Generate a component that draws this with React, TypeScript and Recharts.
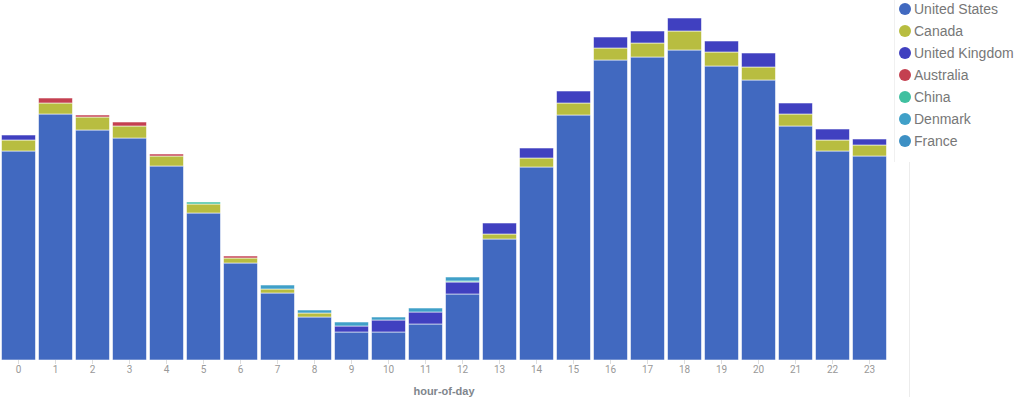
import React from 'react';
import { BarChart, Bar, XAxis, YAxis } from 'recharts';

// values (no y axis in the original, units are arbitrary)
const hours = ['0', '1', '2', '3', '4', '5', '6', '7', '8', '9', '10', '11', '12', '13', '14', '15', '16', '17', '18', '19', '20', '21', '22', '23'];
const unitedStates = [209, 246, 230, 222, 194, 147, 97, 67, 43, 28, 28, 36, 66, 121, 193, 245, 300, 303, 310, 294, 280, 234, 209, 204];
const canada = [11, 11, 13, 12, 10, 9, 5, 4, 4, 0, 0, 0, 0, 5, 9, 12, 12, 14, 19, 14, 13, 12, 11, 11];
const unitedKingdom = [5, 0, 0, 0, 0, 0, 0, 0, 0, 6, 12, 12, 12, 11, 10, 12, 11, 12, 13, 11, 14, 11, 11, 6];
const australia = [0, 5, 2, 4, 2, 0, 2, 0, 0, 0, 0, 0, 0, 0, 0, 0, 0, 0, 0, 0, 0, 0, 0, 0];
const china = [0, 0, 0, 0, 0, 2, 0, 0, 0, 0, 0, 0, 1, 0, 0, 0, 0, 0, 0, 0, 0, 0, 0, 0];
const denmark = [0, 0, 0, 0, 0, 0, 0, 4, 3, 4, 3, 4, 4, 0, 0, 0, 0, 0, 0, 0, 0, 0, 0, 0];
const france = [0, 0, 0, 0, 0, 0, 0, 0, 0, 0, 0, 0, 0, 0, 0, 0, 0, 0, 0, 0, 0, 0, 0, 0];

const series = [
  { key: 'United States', values: unitedStates, color: '#4169c0' },
  { key: 'Canada', values: canada, color: '#b8bd40' },
  { key: 'United Kingdom', values: unitedKingdom, color: '#4040c0' },
  { key: 'Australia', values: australia, color: '#c44050' },
  { key: 'China', values: china, color: '#40c0a0' },
  { key: 'Denmark', values: denmark, color: '#40a0c8' },
  { key: 'France', values: france, color: '#3d90c4' },
];

const chartData = hours.map((h, i) => {
  const row: any = { hour: h };
  series.forEach((s) => {
    row[s.key] = s.values[i];
  });
  return row;
});

const LegendList = () => (
  <div
    style={{
      position: 'absolute',
      left: 899,
      top: -2,
      fontFamily: '"Liberation Sans", Arial, sans-serif',
      fontSize: 14,
      color: '#777',
    }}
  >
    {series.map((s) => (
      <div key={s.key} style={{ display: 'flex', alignItems: 'center', height: 22 }}>
        <span
          style={{
            display: 'inline-block',
            width: 12,
            height: 12,
            borderRadius: 6,
            background: s.color,
            marginRight: 3,
          }}
        />
        <span>{s.key}</span>
      </div>
    ))}
  </div>
);

export default function App() {
  return (
    <div style={{ position: 'absolute', left: 0, top: 0, width: 1024, height: 397, background: '#fff' }}>
      <BarChart
        width={1024}
        height={397}
        data={chartData}
        margin={{ top: 0, right: 136, left: 0, bottom: 0 }}
        barCategoryGap={1.5}
      >
        <XAxis
          dataKey="hour"
          height={37}
          axisLine={false}
          tickLine={{ stroke: '#ddd' }}
          tickSize={4}
          tick={{ fontSize: 10, fill: '#999', fontFamily: 'Roboto, sans-serif' }}
          interval={0}
          label={{
            value: 'hour-of-day',
            position: 'insideBottom',
            offset: 2,
            style: { fontSize: 11, fontWeight: 'bold', fill: '#7f868d', fontFamily: '"Liberation Sans", Arial, sans-serif' },
          }}
        />
        <YAxis hide domain={[0, 360]} />
        {series.map((s) => (
          <Bar
            key={s.key}
            dataKey={s.key}
            stackId="a"
            fill={s.color}
            stroke="rgba(255,255,255,0.55)"
            strokeWidth={1}
            isAnimationActive={false}
          />
        ))}
      </BarChart>
      {/* faint legend frame lines */}
      <div style={{ position: 'absolute', left: 894, top: 0, width: 1, height: 162, background: '#f0f0f0' }} />
      <div style={{ position: 'absolute', left: 909, top: 162, width: 1, height: 235, background: '#ececec' }} />
      <LegendList />
    </div>
  );
}
